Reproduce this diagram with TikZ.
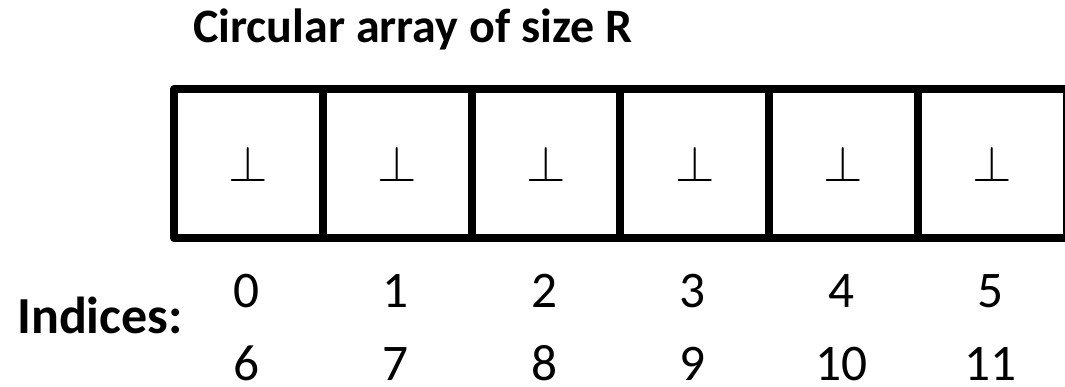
\RequirePackage{fix-cm}
\documentclass[tikz,border=0pt]{standalone}
\usepackage{fontspec}
\setmainfont{Carlito}
\begin{document}
\begin{tikzpicture}[x=0.75pt,y=-0.75pt,
  cell/.style={draw=black, line width=6pt, line join=round, rectangle, inner sep=0pt,
    minimum width=111.6pt, minimum height=111.75pt,
    font=\fontsize{38}{40}\selectfont},
  idx/.style={inner sep=0pt, anchor=base, font=\fontsize{38.5}{42}\selectfont},
  lbl/.style={inner sep=0pt, anchor=base west, font=\fontsize{39}{42}\selectfont\bfseries}]
\useasboundingbox (0,0) rectangle (1065,386);
\clip (0,0) rectangle (1065,386);
\fill[white] (0,0) rectangle (1065,386);
\node[inner sep=0pt, anchor=base west, font=\fontsize{36}{40}\selectfont\bfseries] (title) at (193,42) {Circular array of size R};
\foreach \i in {0,...,5} {
  \node[cell] (c\i) at ({248.4+148.8*\i},163.5) {$\perp$};
}
\foreach \i/\a/\b in {0/0/6,1/1/7,2/2/8,3/3/9,4/4/10,5/5/11} {
  \node[idx] (t\i) at ({246.5+148.8*\i},307) {\a};
  \node[idx] (b\i) at ({246.5+148.8*\i},380) {\b};
}
\node[lbl] (indices) at (17,333) {Indices:};
\end{tikzpicture}
\end{document}
